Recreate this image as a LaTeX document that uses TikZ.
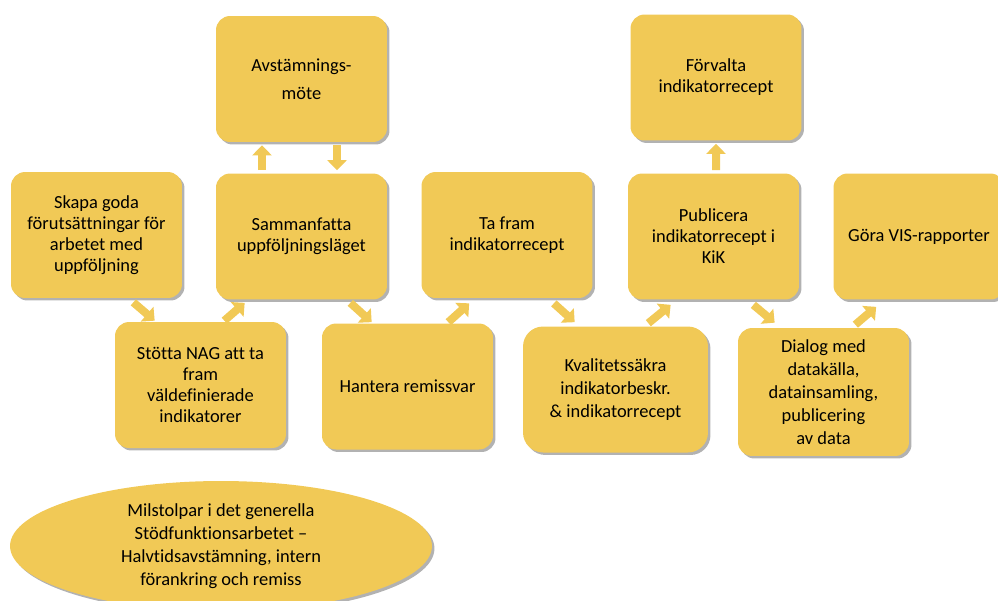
\documentclass[tikz,border=0pt]{standalone}
\usepackage{fontspec}
\setmainfont[Ligatures={TeX,NoCommon}]{Carlito}
\usetikzlibrary{arrows.meta,shapes.geometric,shadows,calc}
\definecolor{gul}{RGB}{241,201,86}

\begin{document}
\begin{tikzpicture}[
    x=0.02cm, y=-0.02cm,
    skugga/.style={drop shadow={shadow xshift=0.05cm, shadow yshift=-0.05cm, fill=black, opacity=0.3}},
    box/.style={fill=gul, skugga, rounded corners=0.28cm, minimum width=3.42cm, minimum height=2.52cm, align=center, font=\fontsize{10.5}{12}\selectfont},
    pil/.style={draw=gul, line width=0.16cm, -{Triangle[width=0.38cm, length=0.2cm]}},
]
    \useasboundingbox (0,0) rectangle (998,600);

    % Top row
    \node[box] (avst) at (301.5,79) {Avstämnings-\\[0.14cm]möte};
    \node[box] (forv) at (716,77.5) {Förvalta\\indikatorrecept};

    % Middle row
    \node[box] (skapa) at (96.5,235) {Skapa goda\\förutsättningar för\\arbetet med\\uppföljning};
    \node[box] (samman) at (301.5,236.5) {Sammanfatta\\uppföljningsläget};
    \node[box] (tafram) at (507,235) {Ta fram\\indikatorrecept};
    \node[box] (publ) at (713.5,236.5) {Publicera\\indikatorrecept i\\KiK};
    \node[box] (gora) at (919,236.5) {Göra VIS-rapporter};

    % Bottom row
    \node[box] (stotta) at (200.5,385) {Stötta NAG att ta\\fram\\väldefinierade\\indikatorer};
    \node[box] (hantera) at (407.5,386.5) {Hantera remissvar};
    \node[box, minimum width=3.7cm, rounded corners=0.4cm, font=\fontsize{10.5}{13}\selectfont] (kval) at (615.5,389.5) {Kvalitetssäkra\\indikatorbeskr.\\\& indikatorrecept};
    \node[box, minimum height=2.56cm, font=\fontsize{10.5}{13}\selectfont] (dialog) at (823.5,392) {Dialog med\\datakälla,\\datainsamling,\\publicering\\av data};

    % Milestones
    \node[ellipse, fill=gul, skugga, minimum width=8.44cm, minimum height=2.6cm, inner sep=0pt, align=center, font=\fontsize{10.5}{13}\selectfont] (milstolpar) at (221,546) {Milstolpar i det generella\\Stödfunktionsarbetet –\\Halvtidsavstämning, intern\\förankring och remiss};

    % Vertical arrows
    \draw[pil] ($(samman.north)+(-39.5,-3)$) -- ($(avst.south)+(-39.5,3)$);
    \draw[pil] ($(avst.south)+(35.5,3)$) -- ($(samman.north)+(35.5,-3)$);
    \draw[pil] ($(publ.north)+(2.5,-3)$) -- ($(forv.south)+(0,3)$);

    % Zigzag arrows
    \draw[pil] ($(skapa.south east)+(-49,4)$) -- ($(stotta.north west)+(40,-1)$);
    \draw[pil] ($(stotta.north east)+(-62,-1)$) -- ($(samman.south west)+(29,3)$);
    \draw[pil] ($(samman.south east)+(-37,3)$) -- ($(hantera.north west)+(50,-1)$);
    \draw[pil] ($(hantera.north east)+(-45,-1)$) -- ($(tafram.south west)+(48,5)$);
    \draw[pil] ($(tafram.south east)+(-39,5)$) -- ($(kval.north west)+(52,-4)$);
    \draw[pil] ($(kval.north east)+(-60,-3)$) -- ($(publ.south west)+(43,5)$);
    \draw[pil] ($(publ.south east)+(-46,5)$) -- ($(dialog.north west)+(37,-5)$);
    \draw[pil] ($(dialog.north east)+(-54,-3)$) -- ($(gora.south west)+(43,7)$);
\end{tikzpicture}
\end{document}
